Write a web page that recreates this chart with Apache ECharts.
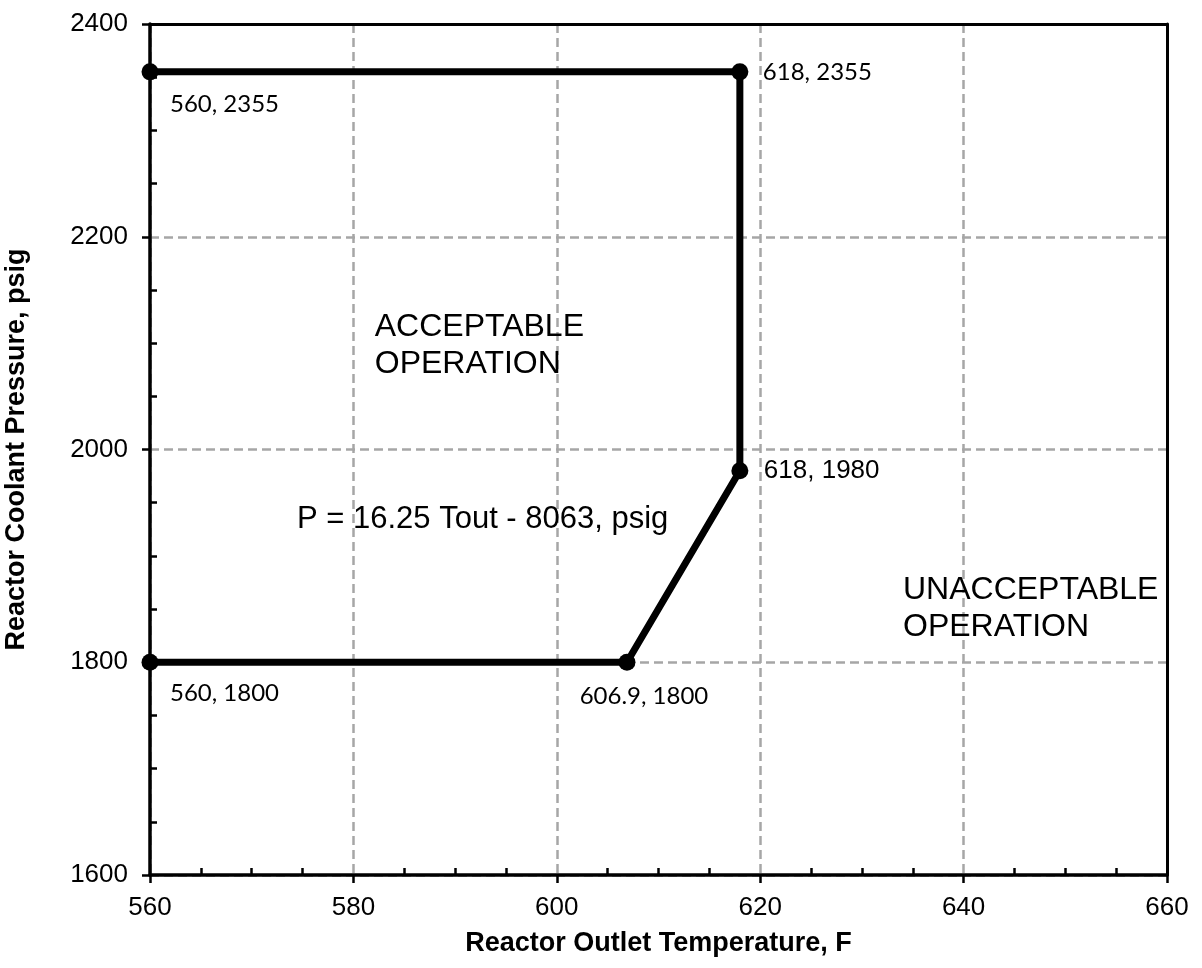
<!DOCTYPE html>
<html>
<head>
<meta charset="utf-8">
<script src="https://cdn.jsdelivr.net/npm/echarts@6/dist/echarts.min.js"></script>
<style>html,body{margin:0;padding:0;background:#fff}#c{width:1202px;height:968px}</style>
</head>
<body>
<div id="c"></div>
<script>
// Data
const temps = [560, 618, 618, 606.9, 560];
const pressures = [2355, 2355, 1980, 1800, 1800];
const pointLabels = ['560, 2355', '618, 2355', '618, 1980', '606.9, 1800', '560, 1800'];
const xTicks = [560, 580, 600, 620, 640, 660];
const yTicks = [1600, 1800, 2000, 2200, 2400];
const annotationTexts = ['ACCEPTABLE\nOPERATION', 'P = 16.25 Tout - 8063, psig', 'UNACCEPTABLE\nOPERATION'];

const AR = 'Liberation Sans, Arial, sans-serif';
const CAL = 'Lato, Carlito, Calibri, sans-serif';

// label placement (style, not data)
const labelCfg = [
  {offset: [20, 32], align: 'left', fontFamily: CAL, fontSize: 24},
  {offset: [23, 0], align: 'left', fontFamily: CAL, fontSize: 24},
  {offset: [24, 0], align: 'left', fontFamily: AR, fontSize: 26},
  {offset: [17, 34], align: 'center', fontFamily: CAL, fontSize: 24},
  {offset: [20, 31], align: 'left', fontFamily: CAL, fontSize: 24}
];
const annoPos = [[582.1, 2098], [574.45, 1934], [634.04, 1850]];
const annoSize = [32, 31, 32];

const lineData = temps.map((t, i) => ({
  value: [t, pressures[i]],
  label: {
    show: true,
    formatter: pointLabels[i],
    position: 'inside',
    offset: labelCfg[i].offset,
    align: labelCfg[i].align,
    verticalAlign: 'middle',
    color: '#000',
    textBorderWidth: 0,
    textBorderColor: 'transparent',
    fontFamily: labelCfg[i].fontFamily,
    fontSize: labelCfg[i].fontSize
  }
}));

const annoData = annotationTexts.map((s, i) => ({
  value: annoPos[i],
  label: {
    show: true, formatter: s, position: 'inside', align: 'left', verticalAlign: 'middle',
    color: '#000', opacity: 1, textBorderWidth: 0, textBorderColor: 'transparent',
    fontFamily: AR, fontSize: annoSize[i], lineHeight: 37
  }
}));

const baseAxis = {
  axisLine: {show: true, onZero: false, lineStyle: {color: '#000', width: 3.5}},
  axisTick: {show: true, length: 8, lineStyle: {color: '#000', width: 2.5}},
  minorTick: {show: true, splitNumber: 4, length: -7, lineStyle: {color: '#000', width: 2.5}},
  splitLine: {show: true, lineStyle: {color: '#a6a6a6', width: 2.5, type: [9, 5]}}
};

const chart = echarts.init(document.getElementById('c'), null, {renderer: 'canvas'});
chart.setOption({
  animation: false,
  backgroundColor: '#fff',
  grid: {left: 150, top: 24, width: 1017, height: 851, containLabel: false, outerBoundsMode: 'none'},
  xAxis: [{
    type: 'value', min: xTicks[0], max: xTicks[xTicks.length - 1], interval: 20,
    name: 'Reactor Outlet Temperature, F', nameLocation: 'middle', nameGap: 55,
    nameTextStyle: {fontFamily: AR, fontSize: 27, fontWeight: 'bold', color: '#000'},
    axisLine: baseAxis.axisLine, axisTick: baseAxis.axisTick, minorTick: baseAxis.minorTick,
    axisLabel: {fontFamily: AR, fontSize: 26, color: '#000', margin: 20, formatter: v => String(v)},
    splitLine: baseAxis.splitLine
  }, {
    type: 'value', position: 'top', min: xTicks[0], max: xTicks[xTicks.length - 1], interval: 20, z: 3,
    axisLine: {show: true, onZero: false, lineStyle: {color: '#000', width: 3}},
    axisTick: {show: false}, axisLabel: {show: false}, splitLine: {show: false}
  }],
  yAxis: [{
    type: 'value', min: yTicks[0], max: yTicks[yTicks.length - 1], interval: 200,
    name: 'Reactor Coolant Pressure, psig', nameLocation: 'middle', nameGap: 120,
    nameTextStyle: {fontFamily: AR, fontSize: 27, fontWeight: 'bold', color: '#000'},
    axisLine: baseAxis.axisLine, axisTick: baseAxis.axisTick, minorTick: baseAxis.minorTick,
    axisLabel: {fontFamily: AR, fontSize: 26, color: '#000', margin: 22, formatter: v => String(v)},
    splitLine: baseAxis.splitLine
  }, {
    type: 'value', position: 'right', min: yTicks[0], max: yTicks[yTicks.length - 1], interval: 200, z: 3,
    axisLine: {show: true, onZero: false, lineStyle: {color: '#000', width: 3}},
    axisTick: {show: false}, axisLabel: {show: false}, splitLine: {show: false}
  }],
  series: [
    {
      type: 'line', data: lineData, symbol: 'circle', symbolSize: 17,
      lineStyle: {color: '#000', width: 7}, itemStyle: {color: '#000'}, z: 5
    },
    {
      type: 'scatter', data: annoData, symbolSize: 0, itemStyle: {color: '#000'}, z: 4, silent: true
    }
  ]
});
</script>
</body>
</html>
